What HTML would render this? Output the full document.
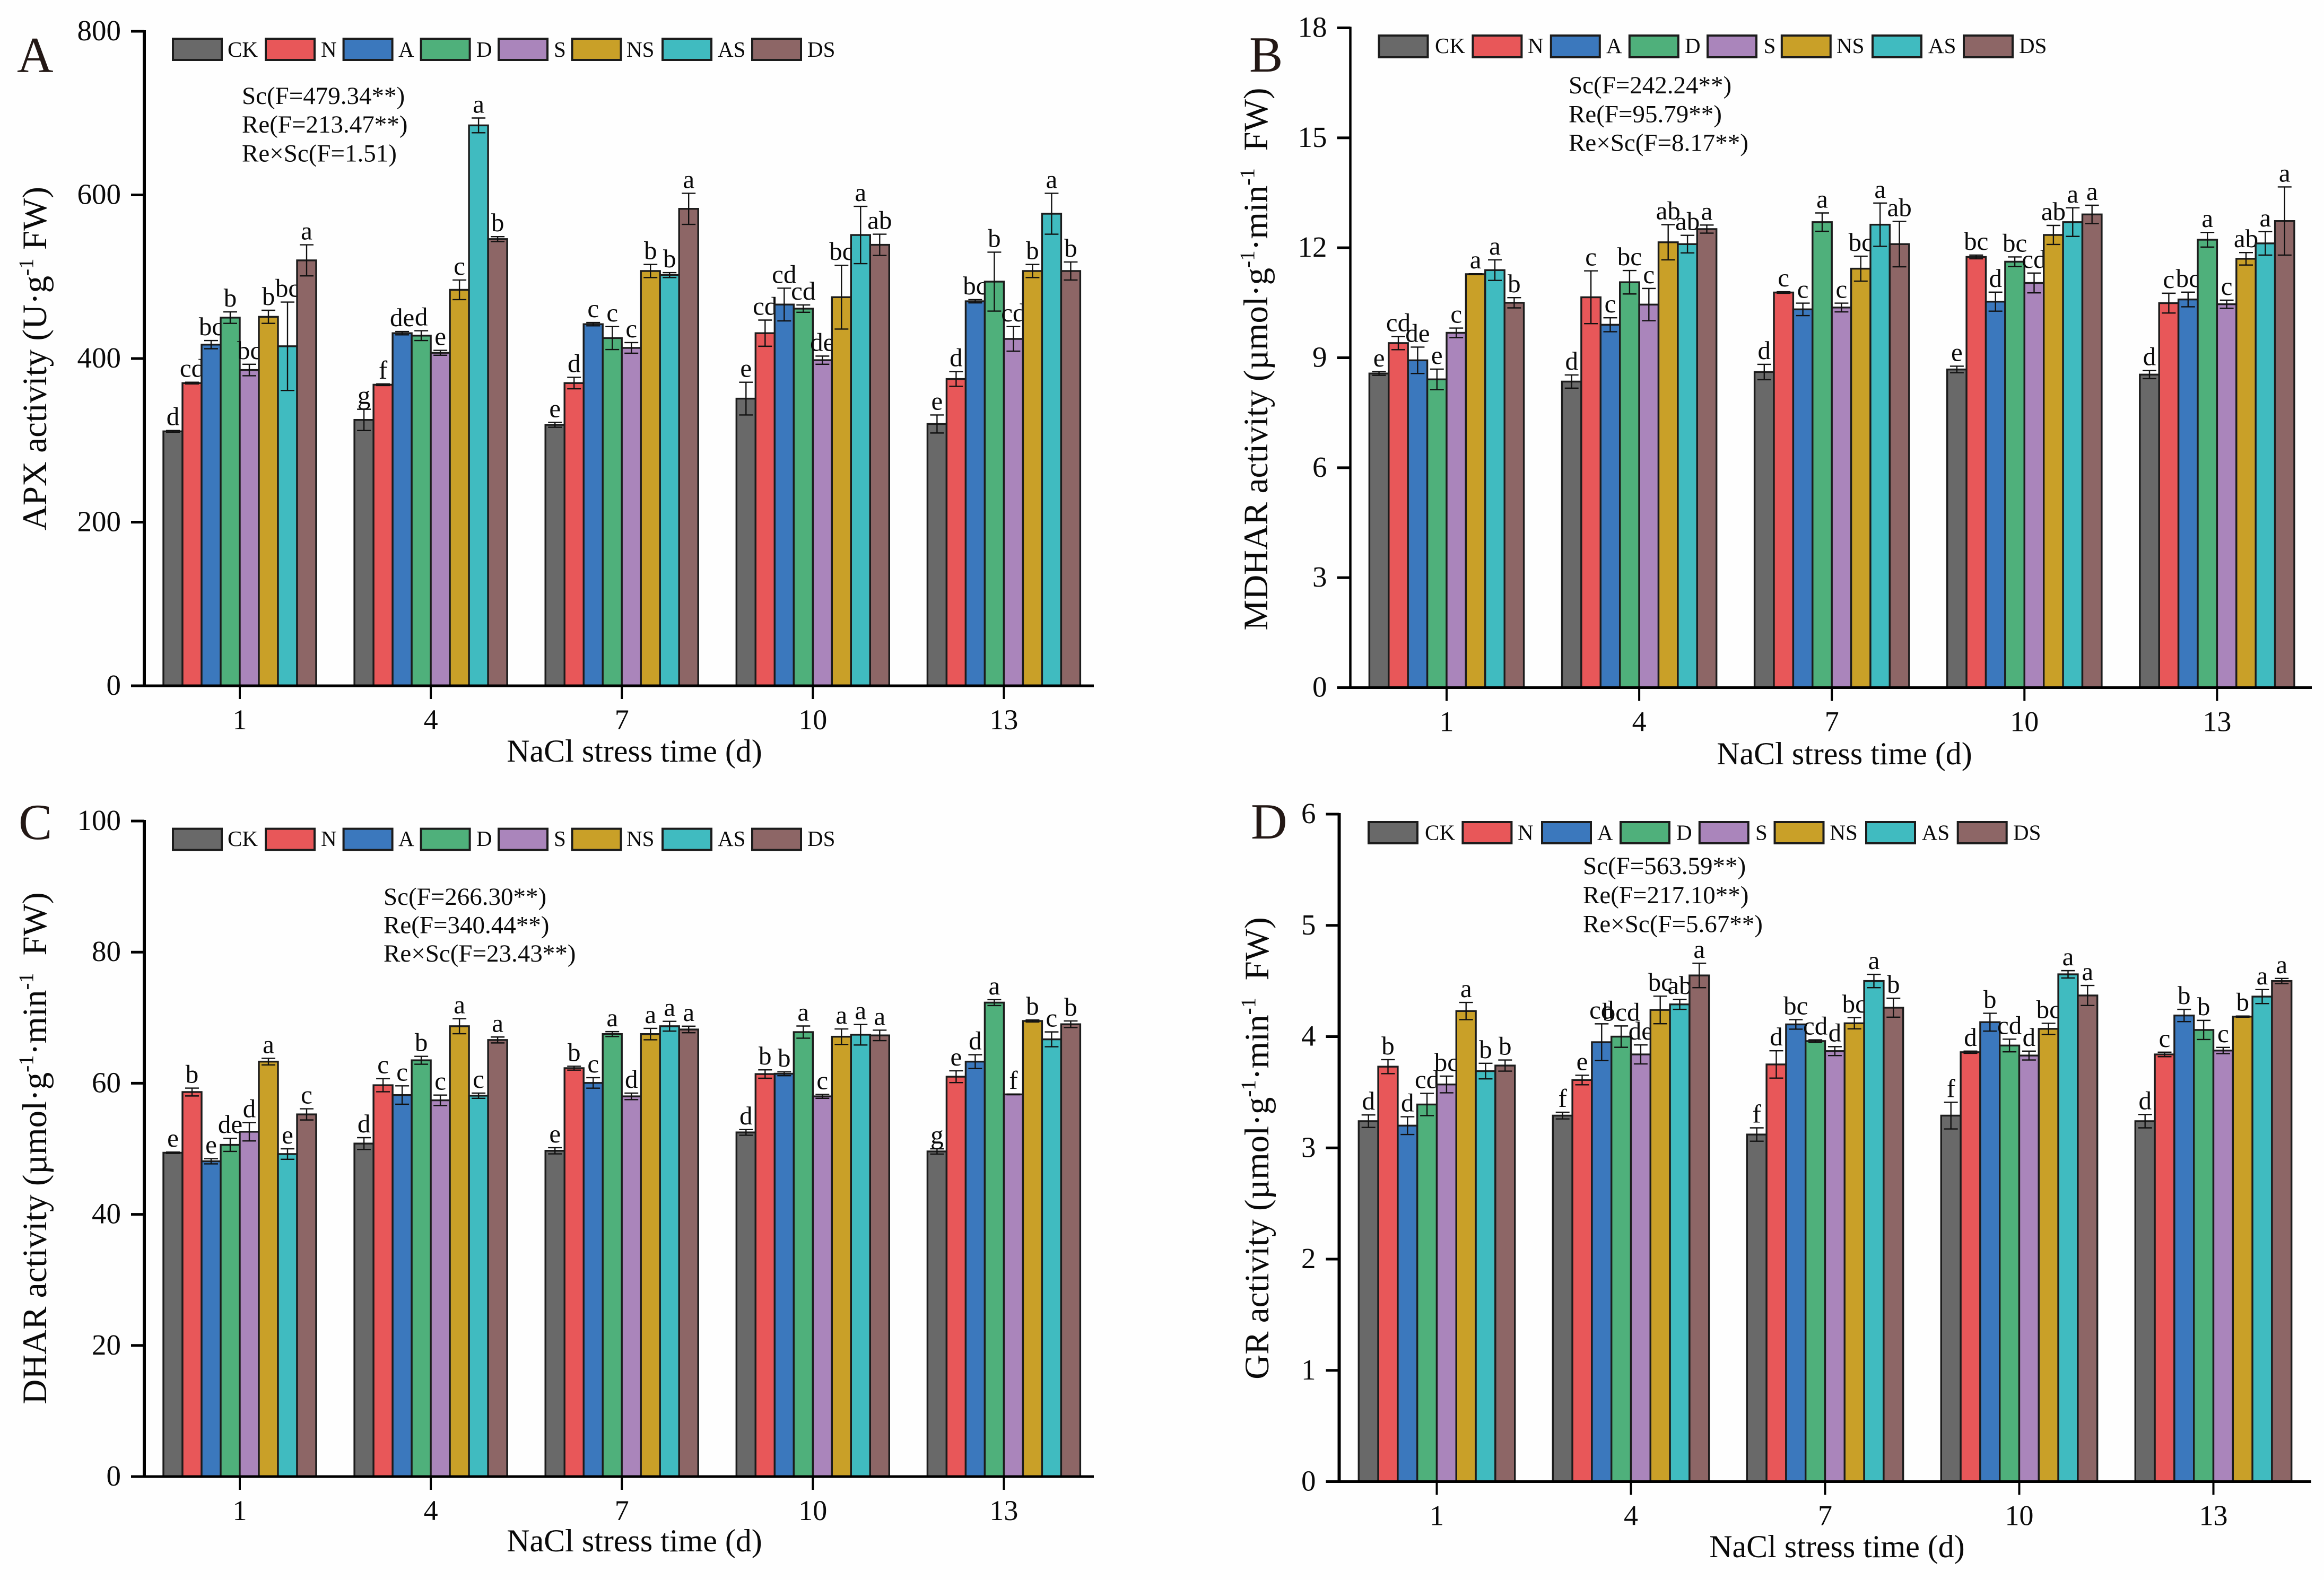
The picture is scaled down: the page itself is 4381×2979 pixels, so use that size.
<!DOCTYPE html>
<html lang="en">
<head>
<meta charset="utf-8">
<title>APX, MDHAR, DHAR and GR activity under NaCl stress</title>
<style>
html,body{margin:0;padding:0;background:#fefefe;}
svg{display:block;}
text{font-family:"Liberation Serif",serif;fill:#0a0a0a;}
.sw{stroke:#1c1c1c;stroke-width:4;}
.ll{font-size:41px;}
.an{font-size:47px;}
.pl{font-size:95px;fill:#231815;}
.yt{font-size:65px;text-anchor:middle;}
.xt{font-size:60px;text-anchor:middle;}
</style>
</head>
<body>
<svg id="figure" xmlns="http://www.w3.org/2000/svg" width="4381" height="2979" viewBox="0 0 4381 2979">
<rect x="0" y="0" width="4381" height="2979" fill="#fefefe"/>

<g id="panel-apx"></g>
<g id="panel-mdhar"></g>
<g id="panel-dhar"></g>
<g id="panel-gr"></g>

<!-- Panel letters -->
<text class="pl" x="32" y="136">A</text>
<text class="pl" x="2355" y="135">B</text>
<text class="pl" x="35" y="1582">C</text>
<text class="pl" x="2358" y="1581">D</text>

<!-- Axis titles -->
<text class="yt" transform="translate(87,676) rotate(-90)">APX activity (U·g<tspan dy="-25" font-size="39">-1</tspan><tspan dy="25">&#160;FW)</tspan></text>
<text class="yt" transform="translate(2389,677) rotate(-90)">MDHAR activity (µmol·g<tspan dy="-25" font-size="39">-1</tspan><tspan dy="25">·min</tspan><tspan dy="-25" font-size="39">-1</tspan><tspan dy="25">&#160;&#160;FW)</tspan></text>
<text class="yt" transform="translate(87,2165) rotate(-90)">DHAR activity (µmol·g<tspan dy="-25" font-size="39">-1</tspan><tspan dy="25">·min</tspan><tspan dy="-25" font-size="39">-1</tspan><tspan dy="25">&#160;&#160;FW)</tspan></text>
<text class="yt" transform="translate(2391,2165) rotate(-90)">GR activity (µmol·g<tspan dy="-25" font-size="39">-1</tspan><tspan dy="25">·min</tspan><tspan dy="-25" font-size="39">-1</tspan><tspan dy="25">&#160;&#160;FW)</tspan></text>

<text class="xt" x="1196" y="1436">NaCl stress time (d)</text>
<text class="xt" x="3477" y="1441">NaCl stress time (d)</text>
<text class="xt" x="1196" y="2925">NaCl stress time (d)</text>
<text class="xt" x="3463" y="2936">NaCl stress time (d)</text>

<!-- ANOVA annotations -->
<g>
<text class="an" x="456" y="196">Sc(F=479.34**)</text>
<text class="an" x="456" y="250">Re(F=213.47**)</text>
<text class="an" x="456" y="304.5">Re×Sc(F=1.51)</text>
</g>
<g>
<text class="an" x="2957" y="176">Sc(F=242.24**)</text>
<text class="an" x="2957" y="230.5">Re(F=95.79**)</text>
<text class="an" x="2957" y="284.5">Re×Sc(F=8.17**)</text>
</g>
<g>
<text class="an" x="723" y="1706">Sc(F=266.30**)</text>
<text class="an" x="723" y="1759.5">Re(F=340.44**)</text>
<text class="an" x="723" y="1813">Re×Sc(F=23.43**)</text>
</g>
<g>
<text class="an" x="2984" y="1648">Sc(F=563.59**)</text>
<text class="an" x="2984" y="1703">Re(F=217.10**)</text>
<text class="an" x="2984" y="1757.5">Re×Sc(F=5.67**)</text>
</g>

<!-- Legends -->
<g>
<g><rect class="sw" x="326" y="73" width="92" height="40" fill="#696969"/><text class="ll" x="429" y="107">CK</text></g>
<g><rect class="sw" x="501" y="73" width="92" height="40" fill="#E85759"/><text class="ll" x="605" y="107">N</text></g>
<g><rect class="sw" x="647.6" y="73" width="92" height="40" fill="#3B78BD"/><text class="ll" x="751" y="107">A</text></g>
<g><rect class="sw" x="793.6" y="73" width="92" height="40" fill="#4FB07B"/><text class="ll" x="898" y="107">D</text></g>
<g><rect class="sw" x="940" y="73" width="92" height="40" fill="#AA85BB"/><text class="ll" x="1044" y="107">S</text></g>
<g><rect class="sw" x="1078.5" y="73" width="92" height="40" fill="#C9A028"/><text class="ll" x="1181" y="107">NS</text></g>
<g><rect class="sw" x="1249" y="73" width="92" height="40" fill="#40BBC0"/><text class="ll" x="1353" y="107">AS</text></g>
<g><rect class="sw" x="1418" y="73" width="92" height="40" fill="#8D6666"/><text class="ll" x="1522" y="107">DS</text></g>
</g>
<g>
<g><rect class="sw" x="2599.5" y="67" width="92" height="41" fill="#696969"/><text class="ll" x="2705" y="100">CK</text></g>
<g><rect class="sw" x="2776.4" y="67" width="92" height="41" fill="#E85759"/><text class="ll" x="2880" y="100">N</text></g>
<g><rect class="sw" x="2923.8" y="67" width="92" height="41" fill="#3B78BD"/><text class="ll" x="3028" y="100">A</text></g>
<g><rect class="sw" x="3071.8" y="67" width="92" height="41" fill="#4FB07B"/><text class="ll" x="3176" y="100">D</text></g>
<g><rect class="sw" x="3219" y="67" width="92" height="41" fill="#AA85BB"/><text class="ll" x="3324.6" y="100">S</text></g>
<g><rect class="sw" x="3358.8" y="67" width="92" height="41" fill="#C9A028"/><text class="ll" x="3462" y="100">NS</text></g>
<g><rect class="sw" x="3530" y="67" width="92" height="41" fill="#40BBC0"/><text class="ll" x="3635" y="100">AS</text></g>
<g><rect class="sw" x="3702" y="67" width="92" height="41" fill="#8D6666"/><text class="ll" x="3806" y="100">DS</text></g>
</g>
<g>
<g><rect class="sw" x="326" y="1562.6" width="92" height="40" fill="#696969"/><text class="ll" x="429" y="1595">CK</text></g>
<g><rect class="sw" x="501" y="1562.6" width="92" height="40" fill="#E85759"/><text class="ll" x="605" y="1595">N</text></g>
<g><rect class="sw" x="647.6" y="1562.6" width="92" height="40" fill="#3B78BD"/><text class="ll" x="751" y="1595">A</text></g>
<g><rect class="sw" x="793.6" y="1562.6" width="92" height="40" fill="#4FB07B"/><text class="ll" x="898" y="1595">D</text></g>
<g><rect class="sw" x="940" y="1562.6" width="92" height="40" fill="#AA85BB"/><text class="ll" x="1044" y="1595">S</text></g>
<g><rect class="sw" x="1078.5" y="1562.6" width="92" height="40" fill="#C9A028"/><text class="ll" x="1181" y="1595">NS</text></g>
<g><rect class="sw" x="1249" y="1562.6" width="92" height="40" fill="#40BBC0"/><text class="ll" x="1353" y="1595">AS</text></g>
<g><rect class="sw" x="1418" y="1562.6" width="92" height="40" fill="#8D6666"/><text class="ll" x="1522" y="1595">DS</text></g>
</g>
<g>
<g><rect class="sw" x="2580" y="1550" width="92" height="40" fill="#696969"/><text class="ll" x="2686" y="1583.5">CK</text></g>
<g><rect class="sw" x="2757.4" y="1550" width="92" height="40" fill="#E85759"/><text class="ll" x="2861" y="1583.5">N</text></g>
<g><rect class="sw" x="2907" y="1550" width="92" height="40" fill="#3B78BD"/><text class="ll" x="3011" y="1583.5">A</text></g>
<g><rect class="sw" x="3055" y="1550" width="92" height="40" fill="#4FB07B"/><text class="ll" x="3160" y="1583.5">D</text></g>
<g><rect class="sw" x="3203.8" y="1550" width="92" height="40" fill="#AA85BB"/><text class="ll" x="3309" y="1583.5">S</text></g>
<g><rect class="sw" x="3345.5" y="1550" width="92" height="40" fill="#C9A028"/><text class="ll" x="3449.4" y="1583.5">NS</text></g>
<g><rect class="sw" x="3518" y="1550" width="92" height="40" fill="#40BBC0"/><text class="ll" x="3622.8" y="1583.5">AS</text></g>
<g><rect class="sw" x="3690.7" y="1550" width="92" height="40" fill="#8D6666"/><text class="ll" x="3795" y="1583.5">DS</text></g>
</g>
</svg>

<script>
// Shared categories
const seriesNames = ['CK','N','A','D','S','NS','AS','DS'];
const dayLabels = ['1','4','7','10','13'];

// Panel A: APX activity
const apxTicks = [0,200,400,600,800];
const apxValues = [
  [311,370,417,450,386,451,415,520],
  [325,368,431,428,407,484,685,546],
  [319,370,442,425,413,507,502,583],
  [351,431,466,461,398,475,551,539],
  [320,375,470,494,424,507,577,507]
];
const apxErrors = [
  [1,1,5,7,7,8,54,19],
  [13,1,2,6,3,12,9,3],
  [3,7,2,14,6.5,8,3,19],
  [20,16,20,4.5,5,39,35,13],
  [11,9,2,36,15,8,25,11]
];
const apxLetters = [
  ['d','cd','bc','b','bc','b','bc','a'],
  ['g','f','de','d','e','c','a','b'],
  ['e','d','c','c','c','b','b','a'],
  ['e','cd','cd','cd','de','bc','a','ab'],
  ['e','d','bc','b','cd','b','a','b']
];

// Panel B: MDHAR activity
const mdharTicks = [0,3,6,9,12,15,18];
const mdharValues = [
  [8.57,9.40,8.93,8.41,9.68,11.28,11.39,10.50],
  [8.35,10.65,9.90,11.06,10.45,12.15,12.10,12.51],
  [8.61,10.78,10.32,12.70,10.37,11.43,12.63,12.10],
  [8.68,11.75,10.53,11.62,11.04,12.35,12.70,12.91],
  [8.54,10.49,10.59,12.22,10.46,11.70,12.12,12.73]
];
const mdharErrors = [
  [0.05,0.18,0.36,0.28,0.13,0.01,0.28,0.14],
  [0.18,0.72,0.19,0.32,0.44,0.48,0.24,0.11],
  [0.21,0.02,0.17,0.25,0.12,0.34,0.59,0.62],
  [0.09,0.05,0.26,0.13,0.27,0.26,0.39,0.25],
  [0.11,0.27,0.20,0.20,0.11,0.17,0.32,0.93]
];
const mdharLetters = [
  ['e','cd','de','e','c','a','a','b'],
  ['d','c','c','bc','c','ab','ab','a'],
  ['d','c','c','a','c','bc','a','ab'],
  ['e','bc','d','bc','cd','ab','a','a'],
  ['d','c','bc','a','c','ab','a','a']
];

// Panel C: DHAR activity
const dharTicks = [0,20,40,60,80,100];
const dharValues = [
  [49.4,58.66,48.1,50.6,52.6,63.3,49.2,55.25],
  [50.8,59.7,58.2,63.5,57.4,68.7,58.1,66.6],
  [49.7,62.3,60.05,67.5,58.0,67.5,68.7,68.2],
  [52.5,61.4,61.45,67.8,58.0,67.1,67.4,67.3],
  [49.6,61.0,63.3,72.3,58.3,69.5,66.7,69.0]
];
const dharErrors = [
  [0.1,0.6,0.4,1.0,1.4,0.5,0.8,0.85],
  [0.9,1.0,1.4,0.6,0.8,1.15,0.4,0.45],
  [0.47,0.3,0.8,0.37,0.5,0.87,0.74,0.5],
  [0.43,0.64,0.3,0.93,0.3,1.18,1.57,0.8],
  [0.4,0.9,1.05,0.45,0.05,0.15,1.13,0.5]
];
const dharLetters = [
  ['e','b','e','de','d','a','e','c'],
  ['d','c','c','b','c','a','c','a'],
  ['e','b','c','a','d','a','a','a'],
  ['d','b','b','a','c','a','a','a'],
  ['g','e','d','a','f','b','c','b']
];

// Panel D: GR activity
const grTicks = [0,1,2,3,4,5,6];
const grValues = [
  [3.24,3.73,3.20,3.39,3.57,4.23,3.69,3.74],
  [3.29,3.61,3.95,4.00,3.84,4.24,4.29,4.55],
  [3.12,3.75,4.11,3.96,3.87,4.12,4.50,4.26],
  [3.29,3.86,4.13,3.92,3.83,4.07,4.56,4.37],
  [3.24,3.84,4.19,4.06,3.875,4.18,4.36,4.50]
];
const grErrors = [
  [0.056,0.063,0.08,0.10,0.075,0.077,0.07,0.05],
  [0.03,0.043,0.165,0.096,0.085,0.124,0.045,0.11],
  [0.06,0.123,0.043,0.011,0.04,0.05,0.06,0.085],
  [0.12,0.01,0.08,0.057,0.04,0.05,0.033,0.09],
  [0.06,0.02,0.055,0.086,0.028,0.005,0.063,0.023]
];
const grLetters = [
  ['d','b','d','cd','bc','a','b','b'],
  ['f','e','cd','bcd','de','bc','ab','a'],
  ['f','d','bc','cd','d','bc','a','b'],
  ['f','d','b','cd','d','bc','a','a'],
  ['d','c','b','b','c','b','a','a']
];

const seriesColors = ['#696969','#E85759','#3B78BD','#4FB07B','#AA85BB','#C9A028','#40BBC0','#8D6666'];
const SVGNS = 'http://www.w3.org/2000/svg';

function svgEl(parent, tag, attrs, content) {
  const el = document.createElementNS(SVGNS, tag);
  for (const k in attrs) el.setAttribute(k, attrs[k]);
  if (content !== undefined) el.textContent = content;
  parent.appendChild(el);
  return el;
}

function linearScale(d0, d1, r0, r1) {
  return function (v) { return r0 + (v - d0) * (r1 - r0) / (d1 - d0); };
}

function drawPanel(id, prefix, values, errors, letters, ticks, layout) {
  const root = document.getElementById(id);
  const y = linearScale(ticks[0], ticks[ticks.length - 1], layout.y0, layout.yTop);
  const x = function (g) { return layout.cx0 + g * layout.step; };
  const tickL = layout.axisX - 25;

  // Bars, error bars and letters are painted series by series, so each later
  // bar covers any wide letter label of the series before it.
  seriesNames.forEach(function (name, s) {
    dayLabels.forEach(function (day, g) {
      const v = values[g][s];
      const e = errors[g][s];
      const cx = x(g) + (s - 3.5) * layout.barW;
      const top = y(v);
      const errTop = y(v + e);
      const errBot = y(v - e);

      const bar = svgEl(root, 'rect', {x: cx - layout.barW / 2, y: top, width: layout.barW, height: layout.y0 - top, fill: seriesColors[s], stroke: '#1c1c1c', 'stroke-width': 3.4});
      
      

      const err = svgEl(root, 'path', {d: 'M' + (cx - 13) + ' ' + errTop + 'H' + (cx + 13) + 'M' + cx + ' ' + errTop + 'V' + errBot + 'M' + (cx - 13) + ' ' + errBot + 'H' + (cx + 13), fill: 'none', stroke: '#111', 'stroke-width': 2.4});
      
      

      const label = svgEl(root, 'text', {x: cx, y: errTop - 10, 'text-anchor': 'middle', 'font-size': 49}, letters[g][s]);
      
      
    });
  });

  // Y axis
  const yAxis = svgEl(root, 'line', {x1: layout.axisX, x2: layout.axisX, y1: layout.yTop - 2, y2: layout.y0, stroke: '#000', 'stroke-width': layout.axisW});
  
  

  ticks.forEach(function (t) {
    const tick = svgEl(root, 'line', {x1: tickL, x2: layout.axisX, y1: y(t), y2: y(t), stroke: '#000', 'stroke-width': 5});
    
    

    const tl = svgEl(root, 'text', {x: tickL - 19, y: y(t) + 17, 'text-anchor': 'end', 'font-size': 55}, String(t));
    
    
  });

  // X axis
  const xAxis = svgEl(root, 'line', {x1: tickL, x2: layout.axisEnd, y1: layout.y0, y2: layout.y0, stroke: '#000', 'stroke-width': 5});
  
  

  dayLabels.forEach(function (day, g) {
    const tick = svgEl(root, 'line', {x1: x(g), x2: x(g), y1: layout.y0, y2: layout.y0 + 25, stroke: '#000', 'stroke-width': 4});
    
    

    const tl = svgEl(root, 'text', {x: x(g), y: layout.y0 + 82, 'text-anchor': 'middle', 'font-size': 54}, day);
    
    
  });
}

drawPanel('panel-apx', 'apx', apxValues, apxErrors, apxLetters, apxTicks,
  {axisX: 272, y0: 1293, yTop: 59, cx0: 452, step: 360.1, barW: 36, axisEnd: 2062, axisW: 6});
drawPanel('panel-mdhar', 'mdhar', mdharValues, mdharErrors, mdharLetters, mdharTicks,
  {axisX: 2545.5, y0: 1296.5, yTop: 52.5, cx0: 2727, step: 363.1, barW: 36.4, axisEnd: 4358, axisW: 4.5});
drawPanel('panel-dhar', 'dhar', dharValues, dharErrors, dharLetters, dharTicks,
  {axisX: 272, y0: 2784, yTop: 1548, cx0: 452, step: 360.1, barW: 36, axisEnd: 2062, axisW: 6});
drawPanel('panel-gr', 'gr', grValues, grErrors, grLetters, grTicks,
  {axisX: 2524.5, y0: 2793.5, yTop: 1535, cx0: 2708.5, step: 366, barW: 36.8, axisEnd: 4357, axisW: 6});
</script>
</body>
</html>
